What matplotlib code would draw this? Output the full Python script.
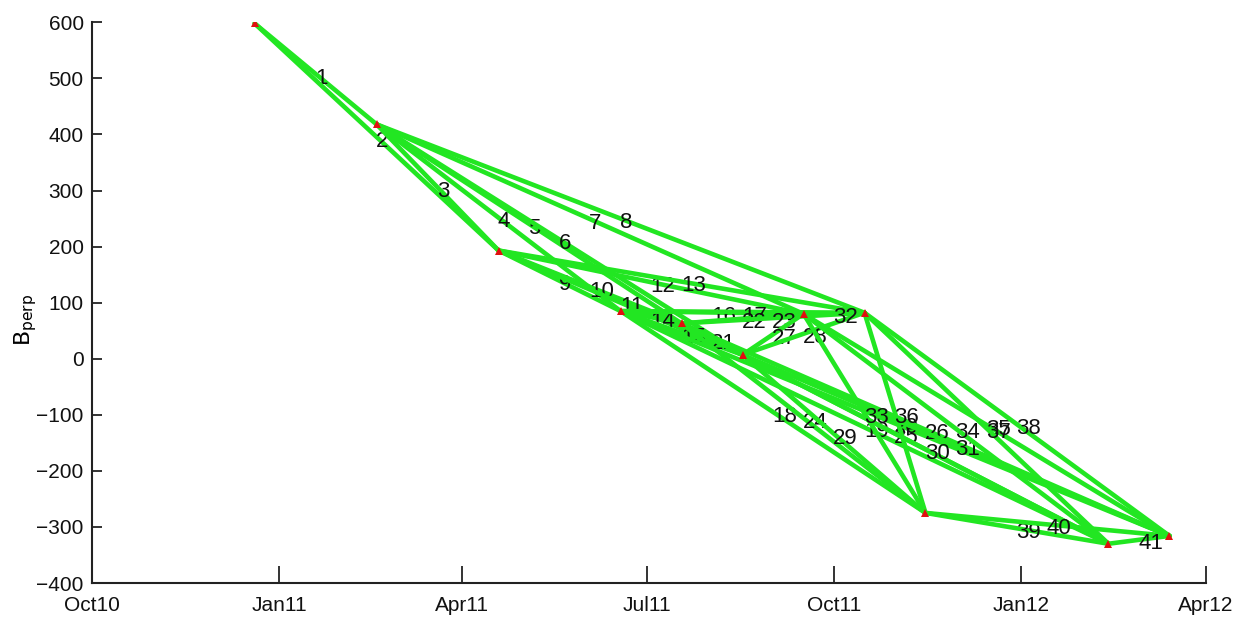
import numpy as np
import matplotlib
matplotlib.use('Agg')
import matplotlib.pyplot as plt
import matplotlib.dates as mdates
from datetime import datetime

# acquisition dates and perpendicular baselines
acq_dates = ['2010-12-20', '2011-02-18', '2011-04-19', '2011-06-18', '2011-07-18',
             '2011-08-17', '2011-09-16', '2011-10-16', '2011-11-15', '2012-02-13',
             '2012-03-14']
bperp = [598, 418, 193, 85, 63, 7, 80, 82, -275, -330, -316]

# interferogram pairs (index into acquisitions), numbered 1..41 in this order
master_idx = [0, 0, 1, 1, 1, 1, 1, 1, 2, 2, 2, 2, 2, 3, 3, 3, 3, 3, 3, 3, 4,
              4, 4, 4, 4, 4, 5, 5, 5, 5, 5, 6, 6, 6, 6, 7, 7, 7, 8, 8, 9]
slave_idx = [1, 2, 2, 3, 4, 5, 6, 7, 3, 4, 5, 6, 7, 4, 5, 6, 7, 8, 9, 10, 5,
             6, 7, 8, 9, 10, 6, 7, 8, 9, 10, 7, 8, 9, 10, 8, 9, 10, 9, 10, 10]

tick_dates = ['2010-10-01', '2011-01-01', '2011-04-01', '2011-07-01',
              '2011-10-01', '2012-01-01', '2012-04-01']

font = ['Liberation Sans', 'DejaVu Sans']

t = mdates.date2num([datetime.strptime(d, '%Y-%m-%d') for d in acq_dates])
b = np.array(bperp, dtype=float)

fig = plt.figure(figsize=(12.4, 6.22), dpi=100)
ax = fig.add_axes([0.0742, 0.0627, 0.8984, 0.9014])

# each interferogram: line then its number, later ones drawn on top
z = 2
for n, (i, j) in enumerate(zip(master_idx, slave_idx)):
    ax.plot([t[i], t[j]], [b[i], b[j]], color='#22e622', lw=3.3,
            solid_capstyle='round', zorder=z)
    ax.annotate(str(n + 1), ((t[i] + t[j]) / 2, (b[i] + b[j]) / 2),
                xytext=(-0.5, -3), textcoords='offset points',
                ha='left', va='center', fontsize=16, family=font,
                color='#111111', zorder=z + 1)
    z += 2

ax.plot(t, b, linestyle='none', marker='^', markersize=5.5, color='#e01010',
        markeredgewidth=0, zorder=z + 1)

ticks = mdates.date2num([datetime.strptime(d, '%Y-%m-%d') for d in tick_dates])
ax.set_xlim(ticks[0], ticks[-1])
ax.set_ylim(-400, 600)
ax.set_xticks(ticks)
ax.xaxis.set_major_formatter(mdates.DateFormatter('%b%y'))
ax.set_yticks(np.arange(-400, 601, 100))

for s in ['top', 'right']:
    ax.spines[s].set_visible(False)
for s in ['left', 'bottom']:
    ax.spines[s].set_linewidth(1.5)
    ax.spines[s].set_color('#222222')

ax.tick_params(axis='x', direction='in', length=12, width=1.2, pad=9,
               labelsize=15, colors='#111111')
ax.tick_params(axis='y', direction='in', length=7, width=1.2, pad=6,
               labelsize=15, colors='#111111')
for lab in ax.get_xticklabels() + ax.get_yticklabels():
    lab.set_family(font)

ax.set_ylabel(r'B$_{\mathregular{perp}}$', fontsize=16, family='DejaVu Sans')
ax.yaxis.set_label_coords(-0.048, 0.47)

fig.savefig('out.png', dpi=100)
